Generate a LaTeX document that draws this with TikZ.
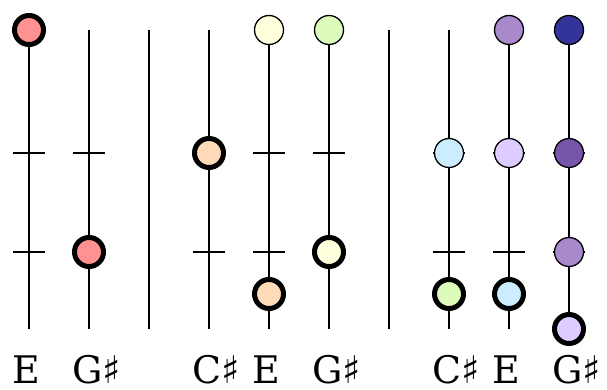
\documentclass[tikz,border=0pt]{standalone}
\usepackage{fontspec}
\setmainfont{DejaVu Serif}
\newfontfamily\symfont{DejaVu Sans}
\newcommand{\shp}{{\symfont ♯}}
\definecolor{cpink}{RGB}{255,145,145}
\definecolor{cpeach}{RGB}{255,218,185}
\definecolor{cyel}{RGB}{255,255,221}
\definecolor{cgreen}{RGB}{221,252,187}
\definecolor{cblue}{RGB}{204,236,255}
\definecolor{clav}{RGB}{221,204,255}
\definecolor{cmpur}{RGB}{170,136,204}
\definecolor{cpur}{RGB}{119,85,170}
\definecolor{cdblue}{RGB}{51,51,153}
\begin{document}
\begin{tikzpicture}[x=1pt,y=-1pt,
  string/.style={line width=2pt},
  fret/.style={line width=2pt},
  note/.style={circle, draw, line width=1.3pt, minimum size=29pt, inner sep=0pt},
  root/.style={note, line width=5pt},
  lab/.style={anchor=base west, inner sep=0pt, font=\fontsize{38}{46}\selectfont}]
\useasboundingbox (0,0) rectangle (607,390);
% strings and frets
\foreach \i/\x in {1/29,2/89,4/209,5/269,6/329,8/449,9/509,10/569}{
  \coordinate (t\i) at (\x,30);
  \coordinate (b\i) at (\x,329);
  \draw[string] (t\i) -- (b\i);
  \coordinate (fa\i) at (\x-16,153);
  \coordinate (fb\i) at (\x+16,153);
  \coordinate (ga\i) at (\x-16,252);
  \coordinate (gb\i) at (\x+16,252);
  \draw[fret] (fa\i) -- (fb\i);
  \draw[fret] (ga\i) -- (gb\i);
}
% separators
\foreach \i/\x in {3/149,7/389}{
  \coordinate (t\i) at (\x,30);
  \coordinate (b\i) at (\x,329);
  \draw[string] (t\i) -- (b\i);
}
% notes, group 1
\node[root, fill=cpink] (n1a) at (29,30) {};
\node[root, fill=cpink] (n2a) at (89,252) {};
% group 2
\node[root, fill=cpeach] (n4a) at (209,153) {};
\node[note, fill=cyel] (n5a) at (269,30) {};
\node[root, fill=cpeach] (n5b) at (269,294) {};
\node[note, fill=cgreen] (n6a) at (329,30) {};
\node[root, fill=cyel] (n6b) at (329,252) {};
% group 3
\node[note, fill=cblue] (n8a) at (449,153) {};
\node[root, fill=cgreen] (n8b) at (449,294) {};
\node[note, fill=cmpur] (n9a) at (509,30) {};
\node[note, fill=clav] (n9b) at (509,153) {};
\node[root, fill=cblue] (n9c) at (509,294) {};
\node[note, fill=cdblue] (n10a) at (569,30) {};
\node[note, fill=cpur] (n10b) at (569,153) {};
\node[note, fill=cmpur] (n10c) at (569,252) {};
\node[root, fill=clav] (n10d) at (569,329) {};
% labels
\node[lab] (l1) at (12,383) {E};
\node[lab] (l2) at (72,383) {G\shp};
\node[lab] (l4) at (192,383) {C\shp};
\node[lab] (l5) at (252,383) {E};
\node[lab] (l6) at (312,383) {G\shp};
\node[lab] (l8) at (432,383) {C\shp};
\node[lab] (l9) at (492,383) {E};
\node[lab] (l10) at (552,383) {G\shp};
\end{tikzpicture}
\end{document}
